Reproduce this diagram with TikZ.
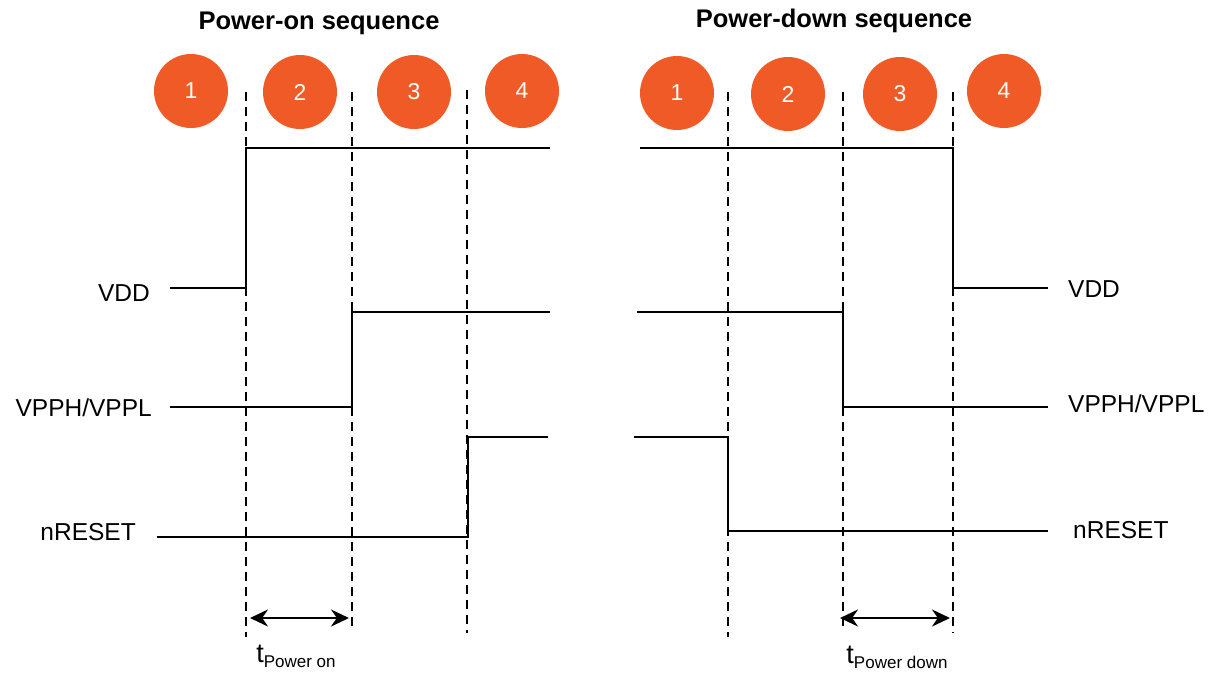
\documentclass[tikz,border=0pt]{standalone}
\usepackage{fontspec}
\setmainfont{Liberation Sans}
\usetikzlibrary{arrows.meta}
\definecolor{dot}{RGB}{240,90,38}
\begin{document}
\begin{tikzpicture}[x=1pt,y=-1pt,
  phase/.style={circle,fill=dot,minimum size=74pt,inner sep=0pt,text=white,font=\fontsize{23}{23}\selectfont},
  sig/.style={line width=2.4pt,line join=miter},
  divider/.style={line width=2pt,dash pattern=on 9pt off 6pt},
  lbl/.style={font=\fontsize{24.5}{25}\selectfont,inner sep=0pt},
  ttl/.style={font=\bfseries\fontsize{25.5}{26}\selectfont,inner sep=0pt},
  dur/.style={line width=2.4pt,{Stealth[length=18pt,width=17pt]}-{Stealth[length=18pt,width=17pt]}},
  tlab/.style={font=\fontsize{27}{28}\selectfont,inner sep=0pt}]
\useasboundingbox (0,0) rectangle (1223,672);
% titles
\node[ttl] (t1) at (319,23) {Power-on sequence};
\node[ttl] (t2) at (834,21) {Power-down sequence};
% phase circles
\node[phase] (a1) at (191,91) {1};
\node[phase] (a2) at (300,92) {2};
\node[phase] (a3) at (414,92) {3};
\node[phase] (a4) at (522,91) {4};
\node[phase] (b1) at (677,93) {1};
\node[phase] (b2) at (788,94) {2};
\node[phase] (b3) at (900,94) {3};
\node[phase] (b4) at (1004,91) {4};
% dividers
\coordinate (d1t) at (246,92);  \coordinate (d1b) at (246,637);
\coordinate (d2t) at (352,92);  \coordinate (d2b) at (352,626);
\coordinate (d3t) at (467,90);  \coordinate (d3b) at (467,633);
\coordinate (e1t) at (728,92);  \coordinate (e1b) at (728,637);
\coordinate (e2t) at (843,92);  \coordinate (e2b) at (843,627);
\coordinate (e3t) at (953,92);  \coordinate (e3b) at (953,633);
\foreach \n in {d1,d2,d3,e1,e2,e3} \draw[divider] (\n t) -- (\n b);
% left signals
\draw[sig] (170,288) -- (246,288) -- (246,148) -- (550,148);
\draw[sig] (170,407) -- (352,407) -- (352,312) -- (550,312);
\draw[sig] (157,537) -- (468,537) -- (468,437) -- (548,437);
% right signals
\draw[sig] (640,148) -- (953,148) -- (953,288) -- (1048,288);
\draw[sig] (637,312) -- (843,312) -- (843,407) -- (1048,407);
\draw[sig] (634,437) -- (728,437) -- (728,531) -- (1048,531);
% labels
\node[lbl,anchor=east] (l1) at (150,293) {VDD};
\node[lbl,anchor=east] (l2) at (152,408) {VPPH/VPPL};
\node[lbl,anchor=east] (l3) at (136,532) {nRESET};
\node[lbl,anchor=west] (r1) at (1068,289) {VDD};
\node[lbl,anchor=west] (r2) at (1068,404) {VPPH/VPPL};
\node[lbl,anchor=west] (r3) at (1073,530) {nRESET};
% durations
\coordinate (p1) at (250,618); \coordinate (p2) at (349,618);
\coordinate (q1) at (840,618); \coordinate (q2) at (950,618);
\draw[dur] (p1) -- (p2);
\draw[dur] (q1) -- (q2);
\node[tlab,anchor=base] (tp1) at (296,662) {t{\fontsize{17}{17}\selectfont\raisebox{-5pt}{Power on}}};
\node[tlab,anchor=base] (tp2) at (897,663) {t{\fontsize{17}{17}\selectfont\raisebox{-5pt}{Power down}}};
\end{tikzpicture}
\end{document}
